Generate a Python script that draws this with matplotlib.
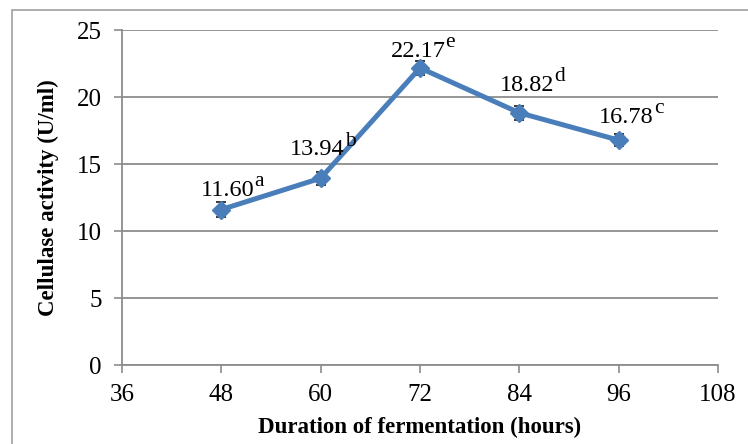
import matplotlib
matplotlib.use("Agg")
import matplotlib.pyplot as plt
from matplotlib.patches import Rectangle

# Cellulase activity over fermentation time
hours = [48, 60, 72, 84, 96]
activity = [11.60, 13.94, 22.17, 18.82, 16.78]
errors = [0.55, 0.5, 0.5, 0.5, 0.45]
letters = ["a", "b", "e", "d", "c"]
x_ticks = [36, 48, 60, 72, 84, 96, 108]
y_ticks = [0, 5, 10, 15, 20, 25]

# label offsets from each point (pixels)
label_dx = [6, -3, -2, 8, 8]
label_dy = [14, 23, 11, 22, 17]

plt.rcParams["font.family"] = ["Liberation Serif", "DejaVu Serif"]

fig = plt.figure(figsize=(7.48, 4.44), dpi=100)
ax = fig.add_axes([122 / 748, 1 - 365 / 444, 596 / 748, 335 / 444])

blue = "#4A7EBB"
grid = "#8C8C8C"
px = 72 / fig.dpi

ax.errorbar(hours, activity, yerr=errors, color=blue, lw=3.6, marker="D",
            ms=9.5, mfc=blue, mec=blue, ecolor="#2B2B2B", elinewidth=1.3,
            capsize=3.6, capthick=1.3, zorder=3)

for h, v, l, dx, dy in zip(hours, activity, letters, label_dx, label_dy):
    num = ax.annotate(f"{v:.2f}", xy=(h, v), xytext=(dx * px, dy * px),
                      textcoords="offset points", ha="center", va="baseline",
                      fontsize=17.5, zorder=4)
    ax.annotate(l, xy=(1.0, 0.70), xycoords=num, ha="left", va="baseline",
                fontsize=15.5, zorder=4)

ax.set_xlim(36, 108)
ax.set_ylim(0, 25)
ax.set_xticks(x_ticks)
ax.set_yticks(y_ticks)
ax.tick_params(axis="both", labelsize=18, color=grid, length=5.5, width=1.2,
               direction="out")
ax.tick_params(axis="x", pad=8)
ax.tick_params(axis="y", pad=9)
ax.yaxis.grid(True, color=grid, lw=1.3)
ax.set_axisbelow(True)
for side in ("top", "right"):
    ax.spines[side].set_visible(False)
for side in ("left", "bottom"):
    ax.spines[side].set_color(grid)
    ax.spines[side].set_linewidth(1.3)

ax.set_xlabel("Duration of fermentation (hours)", fontsize=16.5,
              fontweight="bold", labelpad=8)
ax.set_ylabel("Cellulase activity (U/ml)", fontsize=16.5, fontweight="bold",
              labelpad=13)

# outer chart-area frame
fig.patches.append(Rectangle((12 / 748, -0.1), 1.2, 1.1 - 10 / 444,
                             transform=fig.transFigure, fill=False,
                             ec="#A0A0A0", lw=1.2))

fig.savefig("out.png", dpi=100)
